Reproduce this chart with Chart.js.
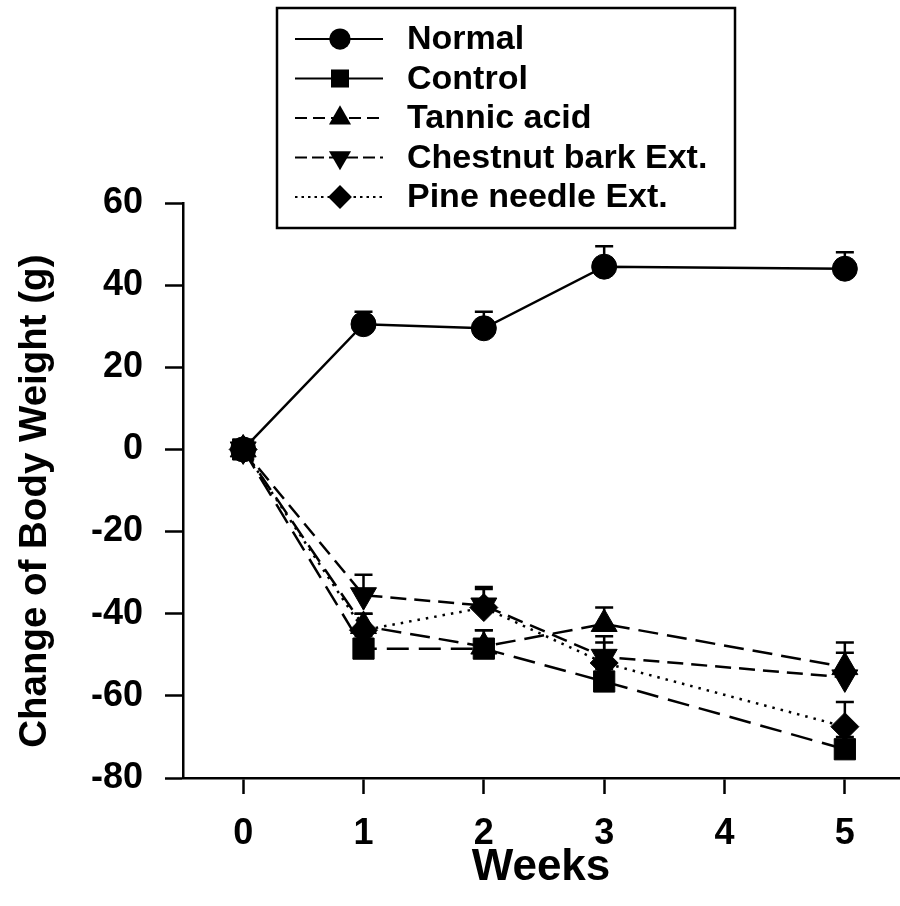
<!DOCTYPE html>
<html>
<head>
<meta charset="utf-8">
<script src="https://cdn.jsdelivr.net/npm/chart.js@4/dist/chart.umd.min.js"></script>
<style>
  body { margin: 0; background: #fff; }
  #wrap { width: 900px; height: 906px; }
</style>
</head>
<body>
<div id="wrap"><canvas id="bodyWeightChart"></canvas></div>
<script>
// weeks and group means / SE
var weeks = [0, 1, 2, 3, 5];
var seriesNames = ["Normal", "Control", "Tannic acid", "Chestnut bark Ext.", "Pine needle Ext."];
var normal = [0, 30.5, 29.5, 44.5, 44];
var normalErr = [0, 3, 4, 5, 4];
var control = [0, -48.5, -48.5, -56.5, -73];
var controlErr = [0, 3, 4.5, 3, 3];
var tannic = [0, -43, -48, -42.5, -53];
var tannicErr = [0, 3, 4, 4, 6];
var chestnut = [0, -35.5, -38, -50.5, -55.5];
var chestnutErr = [0, 5, 4, 5, 6];
var pine = [0, -44, -38.5, -52, -67.5];
var pineErr = [0, 4, 5, 5, 6];
var xTicks = [0, 1, 2, 3, 4, 5];
var yTicks = [-80, -60, -40, -20, 0, 20, 40, 60];

var FONT = "'Liberation Sans', Arial, Helvetica, sans-serif";
Chart.defaults.font.family = FONT;
Chart.defaults.color = '#000';

function makeSet(label, values, errs, style, radius, rotation, dash, legendDash) {
	return {
		label: label,
		data: weeks.map(function(w, i) { return { x: w, y: values[i] }; }),
		errors: errs,
		borderColor: '#000',
		backgroundColor: '#000',
		borderWidth: 2.5,
		borderDash: dash,
		legendDash: legendDash,
		pointStyle: style,
		pointRadius: radius,
		pointRotation: rotation,
		pointBackgroundColor: '#000',
		pointBorderColor: '#000',
		pointBorderWidth: 1,
		fill: false,
		tension: 0,
		clip: false
	};
}

var datasets = [
	makeSet(seriesNames[0], normal, normalErr, 'circle', 12.5, 0, [], []),
	makeSet(seriesNames[1], control, controlErr, 'rect', 15, 0, [22, 10], []),
	makeSet(seriesNames[2], tannic, tannicErr, 'triangle', 15, 0, [20, 9], [12, 6]),
	makeSet(seriesNames[3], chestnut, chestnutErr, 'triangle', 15, 180, [16, 8], [12, 5]),
	makeSet(seriesNames[4], pine, pineErr, 'rectRot', 14, 0, [2.5, 6], [2.5, 4])
];

// upward error bars, drawn under the markers
var errorBars = {
	id: 'errorBars',
	beforeDatasetsDraw: function(chart) {
		var ctx = chart.ctx, xs = chart.scales.x, ys = chart.scales.y;
		ctx.save();
		ctx.strokeStyle = '#000';
		ctx.lineWidth = 2.5;
		chart.data.datasets.forEach(function(ds) {
			ds.data.forEach(function(p, i) {
				var e = ds.errors[i];
				if (!e) return;
				var px = xs.getPixelForValue(p.x);
				var py = ys.getPixelForValue(p.y);
				var pt = ys.getPixelForValue(p.y + e);
				ctx.beginPath();
				ctx.moveTo(px, py);
				ctx.lineTo(px, pt);
				ctx.moveTo(px - 9, pt);
				ctx.lineTo(px + 9, pt);
				ctx.stroke();
			});
		});
		ctx.restore();
	}
};

function drawMarker(ctx, style, rot, r, x, y) {
	ctx.beginPath();
	if (style === 'circle') {
		ctx.arc(x, y, r, 0, Math.PI * 2);
	} else if (style === 'rect') {
		var s = r * Math.SQRT1_2;
		ctx.rect(x - s, y - s, 2 * s, 2 * s);
	} else if (style === 'triangle') {
		var a = rot * Math.PI / 180;
		for (var k = 0; k < 3; k++) {
			var ang = a + k * 2 * Math.PI / 3;
			var fx = x + Math.sin(ang) * r, fy = y - Math.cos(ang) * r;
			if (k === 0) ctx.moveTo(fx, fy); else ctx.lineTo(fx, fy);
		}
		ctx.closePath();
	} else {
		ctx.moveTo(x, y - r);
		ctx.lineTo(x + r, y);
		ctx.lineTo(x, y + r);
		ctx.lineTo(x - r, y);
		ctx.closePath();
	}
	ctx.fill();
}

// boxed legend with line + marker samples
var boxLegend = {
	id: 'boxLegend',
	afterDraw: function(chart) {
		var ctx = chart.ctx;
		ctx.save();
		ctx.strokeStyle = '#000';
		ctx.fillStyle = '#000';
		ctx.lineWidth = 2.5;
		ctx.strokeRect(277, 8, 458, 220);
		ctx.font = 'bold 34px ' + FONT;
		ctx.textBaseline = 'middle';
		chart.data.datasets.forEach(function(ds, i) {
			var y = 39 + i * 39.5;
			ctx.lineWidth = 1.8;
			ctx.setLineDash(ds.legendDash);
			ctx.beginPath();
			ctx.moveTo(295, y);
			ctx.lineTo(383, y);
			ctx.stroke();
			ctx.setLineDash([]);
			drawMarker(ctx, ds.pointStyle, ds.pointRotation, ds.pointRadius * 0.85, 340, y);
			ctx.fillText(ds.label, 407, y + 1);
		});
		ctx.restore();
	}
};

var ctx = document.getElementById('bodyWeightChart');

var weightChart = new Chart(ctx, {
	type: 'line',
	data: { datasets: datasets },
	plugins: [errorBars, boxLegend],
	options: {
		responsive: true,
		maintainAspectRatio: false,
		animation: false,
		layout: { autoPadding: false, padding: { top: 203, right: 1, left: 0, bottom: 0 } },
		plugins: {
			legend: { display: false },
			tooltip: { enabled: false }
		},
		scales: {
			x: {
				type: 'linear',
				min: -0.5,
				max: 5.45,
				afterBuildTicks: function(s) { s.ticks = xTicks.map(function(v) { return { value: v }; }); },
				afterFit: function(s) { s.height = 128; s.paddingLeft = 0; s.paddingRight = 0; },
				grid: { drawOnChartArea: false, drawTicks: true, tickLength: 16, tickWidth: 2.5, tickColor: '#000' },
				border: { display: true, color: '#000', width: 2.5 },
				ticks: { color: '#000', font: { size: 36, weight: 'bold' }, padding: 18 },
				title: { display: true, text: 'Weeks', color: '#000', font: { size: 44, weight: 'bold' }, padding: { top: 0, bottom: 12 } }
			},
			y: {
				min: -80,
				max: 60,
				afterBuildTicks: function(s) { s.ticks = yTicks.map(function(v) { return { value: v }; }); },
				afterFit: function(s) { s.width = 183; s.paddingTop = 0; s.paddingBottom = 0; },
				grid: { drawOnChartArea: false, drawTicks: true, tickLength: 18, tickWidth: 2.5, tickColor: '#000' },
				border: { display: true, color: '#000', width: 2.5 },
				ticks: { color: '#000', font: { size: 36, weight: 'bold' }, padding: 22 },
				title: { display: true, text: 'Change of Body Weight (g)  ', color: '#000', font: { size: 38.5, weight: 'bold' }, padding: { top: 12, bottom: 0 } }
			}
		}
	}
});
</script>
</body>
</html>
